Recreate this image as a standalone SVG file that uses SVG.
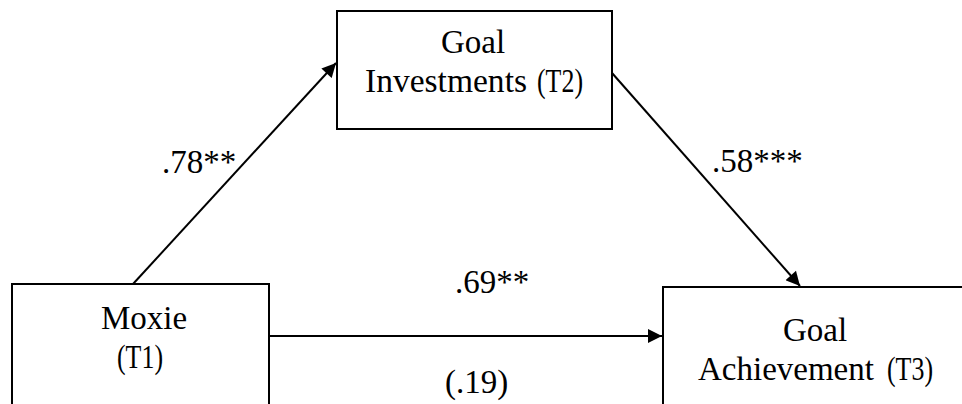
<svg xmlns="http://www.w3.org/2000/svg" width="962" height="404" viewBox="0 0 962 404">
<style>
.box{fill:#fff;stroke:#000;stroke-width:2}
.t{font-family:"Liberation Serif","Times New Roman",serif;font-size:33px;fill:#000}
.m{text-anchor:middle}
.c{fill:none;stroke:#000;stroke-width:2}
</style>
<defs>
<marker id="ah" viewBox="0 0 10 10" refX="10" refY="5" markerWidth="16" markerHeight="14" markerUnits="userSpaceOnUse" orient="auto">
<path d="M0,0 L10,5 L0,10 Z" fill="#000"/>
</marker>
</defs>
<rect width="962" height="404" fill="#fff"/>
<g id="connectors">
<line class="c" x1="133" y1="284" x2="336" y2="63" marker-end="url(#ah)"/>
<line class="c" x1="612" y1="73" x2="800" y2="286" marker-end="url(#ah)"/>
<line class="c" x1="269" y1="336" x2="662" y2="336" marker-end="url(#ah)"/>
</g>
<g id="moxie">
<rect class="box" x="12" y="284" width="257" height="130"/>
<text class="t m" x="144" y="329">Moxie</text>
<text class="t" x="117" y="368" textLength="46" lengthAdjust="spacingAndGlyphs">(T1)</text>
</g>
<g id="goal-investments">
<rect class="box" x="337" y="11" width="275" height="118"/>
<text class="t m" x="473" y="53">Goal</text>
<text class="t" x="365" y="92" textLength="162" lengthAdjust="spacingAndGlyphs">Investments</text>
<text class="t" x="537" y="92" textLength="46" lengthAdjust="spacingAndGlyphs">(T2)</text>
</g>
<g id="goal-achievement">
<rect class="box" x="663" y="287" width="310" height="130"/>
<text class="t m" x="815" y="341">Goal</text>
<text class="t" x="698" y="380">Achievement</text>
<text class="t" x="887" y="380" textLength="46" lengthAdjust="spacingAndGlyphs">(T3)</text>
</g>
<g id="labels">
<text class="t" x="162" y="173">.78**</text>
<text class="t" x="712" y="172">.58***</text>
<text class="t" x="455" y="293">.69**</text>
<text class="t" x="445" y="393">(.19)</text>
</g>
</svg>
